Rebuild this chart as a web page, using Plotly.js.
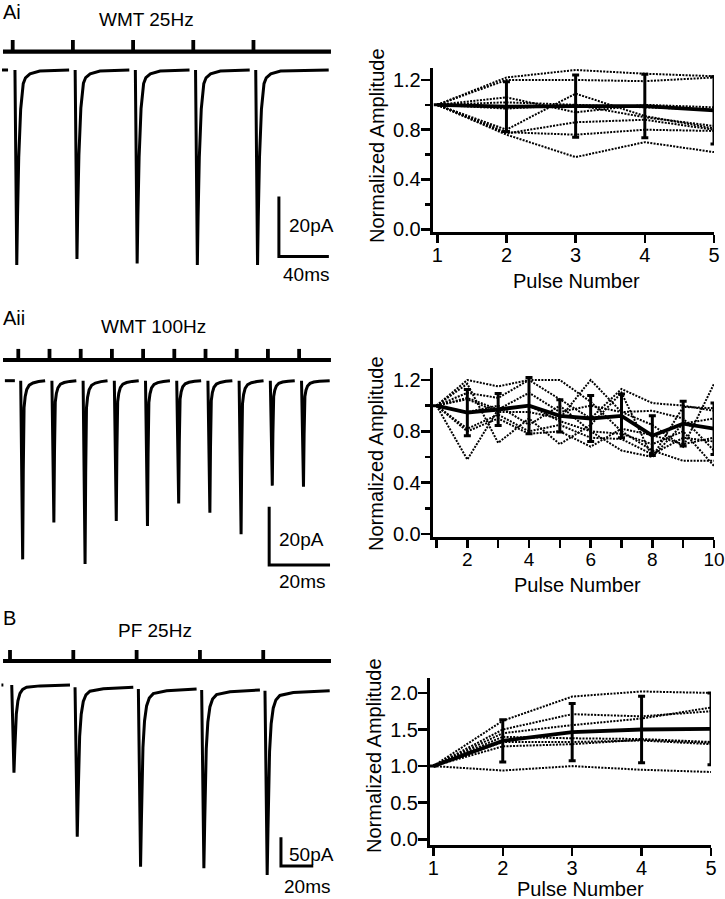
<!DOCTYPE html>
<html><head><meta charset="utf-8">
<script src="https://cdn.plot.ly/plotly-3.0.1.min.js"></script>
<style>html,body{margin:0;padding:0;background:#fff}#chart{width:725px;height:899px}</style>
</head><body><div id="chart"></div>
<script>
// ================= DATA =================
// --- summary plots (normalized amplitude vs pulse number) ---
const pulses5 = [1, 2, 3, 4, 5];
const pulses10 = [1, 2, 3, 4, 5, 6, 7, 8, 9, 10];
const pulses10Text = ['', '2', '', '4', '', '6', '', '8', '', '10'];

const wmt25Cells = [
  [1, 1.22, 1.28, 1.25, 1.23],
  [1, 1.20, 1.20, 1.19, 1.22],
  [1, 0.80, 1.09, 0.91, 0.81],
  [1, 1.06, 0.94, 1.00, 0.98],
  [1, 1.02, 1.00, 0.98, 0.96],
  [1, 0.97, 1.00, 0.90, 0.83],
  [1, 0.77, 0.86, 0.88, 0.80],
  [1, 0.78, 0.76, 0.80, 0.79],
  [1, 0.76, 0.58, 0.70, 0.62]
];
const wmt25Mean = [1.0, 0.985, 0.99, 0.99, 0.955];
const wmt25Sem = [0, 0.20, 0.25, 0.255, 0.27];

const wmt100Cells = [
  [1, 1.20, 1.15, 1.20, 1.20, 1.03, 0.80, 0.65, 0.57, 0.57],
  [1, 1.17, 0.71, 0.90, 0.70, 0.85, 1.10, 0.60, 0.99, 0.98],
  [1, 1.10, 1.06, 1.20, 1.05, 0.90, 1.13, 1.02, 1.00, 0.96],
  [1, 1.06, 0.97, 1.10, 0.95, 1.00, 0.95, 0.96, 0.90, 0.65],
  [1, 1.05, 0.95, 0.95, 0.90, 1.20, 0.95, 0.85, 0.68, 1.17],
  [1, 0.95, 1.00, 0.85, 1.00, 0.80, 0.78, 0.70, 0.80, 0.53],
  [1, 0.82, 0.93, 0.80, 0.85, 0.75, 0.74, 0.62, 0.75, 0.72],
  [1, 0.80, 0.90, 0.78, 0.80, 0.68, 0.82, 0.77, 0.70, 0.75],
  [1, 0.58, 0.97, 1.00, 0.88, 0.80, 0.65, 0.60, 0.86, 0.90]
];
const wmt100Mean = [1.0, 0.945, 0.97, 1.0, 0.92, 0.90, 0.92, 0.766, 0.86, 0.82];
const wmt100Sem = [0, 0.18, 0.125, 0.22, 0.125, 0.18, 0.17, 0.155, 0.175, 0.20];

const pf25Cells = [
  [1, 1.62, 1.95, 2.02, 2.00],
  [1, 1.50, 1.71, 1.68, 1.75],
  [1, 1.45, 1.56, 1.65, 1.80],
  [1, 1.40, 1.38, 1.37, 1.33],
  [1, 1.33, 1.33, 1.35, 1.30],
  [1, 1.27, 1.30, 1.36, 1.32],
  [1, 0.94, 1.00, 0.95, 0.92]
];
const pf25Mean = [1.0, 1.345, 1.465, 1.50, 1.51];
const pf25Sem = [0, 0.29, 0.39, 0.455, 0.49];

// --- example current traces (ms, pA) ---
// WMT 25 Hz
const stimAi = [0, 40, 80, 120, 160];
const ampAi = [-65, -63, -64.5, -65, -65];
const baseAi = [0, 0, 0, 0, 0];
const shapeAiT = [1.5, 2.2, 2.7, 3.2, 4.0, 5.3, 6.2, 7.0, 8.5, 11.5, 18, 37.5];
const shapeAiF = [0, 0.6, 1, 0.75, 0.45, 0.2, 0.11, 0.07, 0.04, 0.02, 0.005, 0];
const lastEndAi = 50;
const preAi = [-7.1, -3.1];
const stimBarAi = [-6.45, 211.5, 6.1, 10];      // xStart, xEnd, bar level, tick top (pA)
const scaleAi = [176.9, -42.2, 20, 33.2];        // x, top, pA length, ms length
// WMT 100 Hz
const stimAii = [0, 10, 20, 30, 40, 50, 60, 70, 80, 90];
const ampAii = [-61.3, -48.6, -62.9, -48.1, -49.8, -42.1, -45.3, -52.7, -36.0, -36.4];
const baseAii = [0, 0, 0, 0, 0, 0, 0, 0, 0, 0];
const shapeAiiT = [0.77, 1.15, 1.4, 1.6, 1.85, 2.2, 2.7, 3.5, 4.7, 6.5, 8.6];
const shapeAiiF = [0, 0.55, 1, 0.5, 0.15, 0.09, 0.05, 0.025, 0.013, 0.005, 0];
const lastEndAii = 9.8;
const preAii = [-4.3, -1.1];
const stimBarAii = [-4.9, 100.2, 7.1, 10.9];
const scaleAii = [80.4, -43.2, 20, 19.5];
// PF 25 Hz
const stimB = [0, 40, 80, 120, 160];
const ampB = [-152.8, -260.3, -309.6, -310.6, -321];
const baseB = [0, -4, -7, -8.7, -9.9];
const shapeBT = [1.1, 1.8, 2.5, 3.0, 3.5, 4.0, 5.0, 6.3, 8.0, 10.5, 19, 37.9];
const shapeBF = [0, 0.4, 1, 0.75, 0.5, 0.33, 0.18, 0.095, 0.05, 0.026, 0.01, 0];
const lastEndB = 42;
const preB = [-5.4, -4.2];
const stimBarB = [-4.4, 202.8, 41.8, 61];
const scaleB = [171.2, -265.3, 50, 20.4];

// ================= BUILD =================
const FONT = 'Liberation Sans, Arial, Helvetica, sans-serif';
const W = 725, H = 899;
const px = v => v / W;
const py = v => 1 - v / H;

function recTrace(stims, amps, bases, sT, sF, lastEnd, pre, xa, ya) {
  const x = [pre[0], pre[1], null], y = [0, 0, null];
  stims.forEach((s, i) => {
    sT.forEach((t, j) => {
      x.push(s + t); y.push(bases[i] + sF[j] * amps[i]);
    });
    if (i === stims.length - 1) { x.push(s + lastEnd); y.push(bases[i]); }
    x.push(null); y.push(null);
  });
  return {x, y, xaxis: xa, yaxis: ya, mode: 'lines', line: {color: 'black', width: 3},
          hoverinfo: 'skip', showlegend: false};
}
function stimTraces(stims, bar, xa, ya) {
  const bx = [bar[0], bar[1]], by = [bar[2], bar[2]];
  const tx = [], ty = [];
  stims.forEach(s => { tx.push(s, s, null); ty.push(bar[2], bar[3], null); });
  return [
    {x: bx, y: by, xaxis: xa, yaxis: ya, mode: 'lines', line: {color: 'black', width: 4.2}, hoverinfo: 'skip', showlegend: false},
    {x: tx, y: ty, xaxis: xa, yaxis: ya, mode: 'lines', line: {color: 'black', width: 3.8}, hoverinfo: 'skip', showlegend: false}
  ];
}
function scaleTrace(sc, xa, ya) {
  return {x: [sc[0], sc[0], sc[0] + sc[3]], y: [sc[1], sc[1] - sc[2], sc[1] - sc[2]],
          xaxis: xa, yaxis: ya, mode: 'lines', line: {color: 'black', width: 3},
          hoverinfo: 'skip', showlegend: false};
}
function summaryTraces(xs, cells, mean, sem, xa, ya) {
  const out = cells.map(c => ({x: xs, y: c, xaxis: xa, yaxis: ya, mode: 'lines',
    line: {color: '#000', width: 2, dash: '2px,1.3px'}, hoverinfo: 'skip', showlegend: false, cliponaxis: false}));
  out.push({x: xs, y: mean, xaxis: xa, yaxis: ya, mode: 'lines', cliponaxis: false,
    line: {color: 'black', width: 3.8},
    error_y: {type: 'data', array: sem, visible: true, color: 'black', thickness: 3, width: 3.5},
    hoverinfo: 'skip', showlegend: false});
  return out;
}

const data = [
  ...stimTraces(stimAi, stimBarAi, 'x', 'y'),
  recTrace(stimAi, ampAi, baseAi, shapeAiT, shapeAiF, lastEndAi, preAi, 'x', 'y'),
  scaleTrace(scaleAi, 'x', 'y'),
  ...summaryTraces(pulses5, wmt25Cells, wmt25Mean, wmt25Sem, 'x2', 'y2'),
  ...stimTraces(stimAii, stimBarAii, 'x3', 'y3'),
  recTrace(stimAii, ampAii, baseAii, shapeAiiT, shapeAiiF, lastEndAii, preAii, 'x3', 'y3'),
  scaleTrace(scaleAii, 'x3', 'y3'),
  ...summaryTraces(pulses10, wmt100Cells, wmt100Mean, wmt100Sem, 'x4', 'y4'),
  ...stimTraces(stimB, stimBarB, 'x5', 'y5'),
  recTrace(stimB, ampB, baseB, shapeBT, shapeBF, lastEndB, preB, 'x5', 'y5'),
  scaleTrace(scaleB, 'x5', 'y5'),
  ...summaryTraces(pulses5, pf25Cells, pf25Mean, pf25Sem, 'x6', 'y6')
];

function hidden(domain, range, anchor) {
  return {domain, range, anchor, visible: false, fixedrange: true};
}
function sumX(domain, range, anchor, vals, text, size) {
  return {domain, range, anchor, showline: true, linewidth: 3, linecolor: 'black',
    ticks: 'outside', ticklen: 8, tickwidth: 2.5, tickcolor: 'black', ticklabelstandoff: -5,
    ticklabeloverflow: 'allow',
    tickmode: 'array', tickvals: vals, ticktext: text, showgrid: false, zeroline: false,
    tickfont: {family: FONT, size: size || 20, color: 'black'}, fixedrange: true};
}
function sumY(domain, range, anchor, vals, text, minorVals) {
  const a = {domain, range, anchor, showline: true, linewidth: 3, linecolor: 'black',
    ticks: 'outside', ticklen: 9, tickwidth: 2.5, tickcolor: 'black', ticklabelstandoff: -4,
    tickmode: 'array', tickvals: vals, ticktext: text, showgrid: false, zeroline: false,
    tickfont: {family: FONT, size: 20, color: 'black'}, fixedrange: true};
  if (minorVals) a.minor = {tickmode: 'array', tickvals: minorVals, ticks: 'outside', ticklen: 5, tickwidth: 2.5, tickcolor: 'black', showgrid: false};
  return a;
}

const layout = {
  width: W, height: H, autosize: false,
  margin: {l: 0, r: 0, t: 0, b: 0, pad: 0},
  paper_bgcolor: 'white', plot_bgcolor: 'rgba(0,0,0,0)',
  font: {family: FONT, color: 'black'},
  showlegend: false,
  // Ai traces
  xaxis: hidden([0, 340 / W], [-8.44, 217.5], 'y'),
  yaxis: hidden([py(280), py(30)], [-70, 13.33], 'x'),
  // Ai summary
  xaxis2: sumX([432.7 / W, 714 / W], [0.934, 5], 'y2', pulses5, pulses5.map(String)),
  yaxis2: sumY([py(232), py(68)], [-0.022, 1.296], 'x2', [0, 0.4, 0.8, 1.2], ['0.0', '0.4', '0.8', '1.2'], [0.2, 0.6, 1.0]),
  // Aii traces
  xaxis3: hidden([0, 340 / W], [-5.865, 103.1], 'y3'),
  yaxis3: hidden([py(590), py(340)], [-71.8, 13.96], 'x3'),
  // Aii summary
  xaxis4: sumX([432.7 / W, 714 / W], [0.877, 10], 'y4', pulses10, pulses10Text, 19),
  yaxis4: sumY([py(537.3), py(368.3)], [-0.026, 1.291], 'x4', [0, 0.4, 0.8, 1.2], ['0.0', '0.4', '0.8', '1.2'], [0.2, 0.6, 1.0]),
  // B traces
  xaxis5: hidden([0, 340 / W], [-6.317, 208.5], 'y5'),
  yaxis5: hidden([0, py(640)], [-372.8, 78.4], 'x5'),
  // B summary
  xaxis6: sumX([430 / W, 711 / W], [0.952, 5], 'y6', pulses5, pulses5.map(String)),
  yaxis6: sumY([py(845), py(678.3)], [-0.078, 2.2], 'x6', [0, 0.5, 1.0, 1.5, 2.0], ['0.0', '0.5', '1.0', '1.5', '2.0'], null),
  annotations: []
};

function ann(text, x, y, xanchor, size, angle) {
  layout.annotations.push({text, x: px(x), y: py(y), xref: 'paper', yref: 'paper',
    xanchor, yanchor: 'middle', showarrow: false, textangle: angle || 0,
    font: {family: FONT, size, color: 'black'}});
}
// panel labels and condition titles
ann('Ai', 1, 12, 'left', 20);
ann('WMT 25Hz', 146, 19, 'center', 19);
ann('Aii', 1, 318, 'left', 20);
ann('WMT 100Hz', 153, 326, 'center', 19);
ann('B', 1, 618, 'left', 20);
ann('PF 25Hz', 155, 630, 'center', 19);
// scale bar labels
ann('20pA', 287, 225, 'left', 19);
ann('40ms', 281, 274, 'left', 19);
ann('20pA', 277, 539, 'left', 19);
ann('20ms', 277, 581, 'left', 19);
ann('50pA', 287, 854, 'left', 19);
ann('20ms', 282, 886, 'left', 19);
// axis titles
ann('Normalized Amplitude', 377, 146, 'center', 20, -90);
ann('Pulse Number', 576, 281, 'center', 20);
ann('Normalized Amplitude', 376, 454, 'center', 20, -90);
ann('Pulse Number', 577, 585, 'center', 20);
ann('Normalized Amplitude', 374, 756, 'center', 20, -90);
ann('Pulse Number', 580, 889, 'center', 20);

Plotly.newPlot('chart', data, layout, {staticPlot: true, displayModeBar: false});
</script>
</body></html>
